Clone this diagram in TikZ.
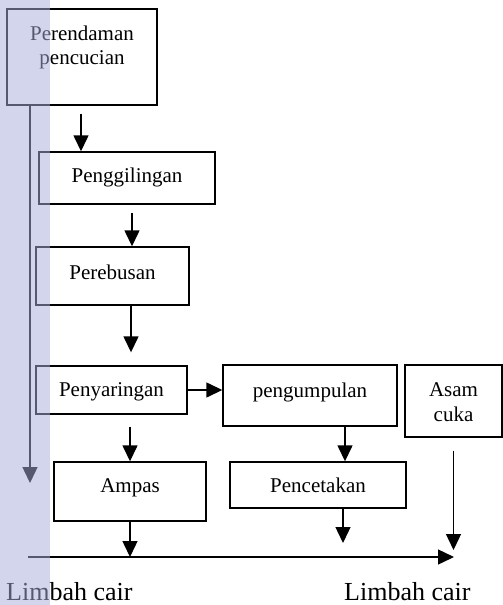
\documentclass[tikz,border=0pt]{standalone}
\usepackage{fontspec}
\setmainfont{Liberation Serif}
\usetikzlibrary{arrows.meta,calc}
\definecolor{bandcol}{RGB}{167,173,216}
\newcommand{\liftt}[2]{\raisebox{#1}[\height][\depth]{#2}}
\begin{document}
\begin{tikzpicture}[x=1pt,y=-1pt,
  box/.style={draw, line width=1.4pt, inner sep=0pt, font=\fontsize{21}{24}\selectfont, align=center},
  arr/.style={line width=1.4pt, -{Triangle[width=15pt,length=16pt]}},
  lbl/.style={font=\fontsize{26}{30}\selectfont, inner sep=0pt}]
\useasboundingbox (0,0) rectangle (503,605);
\fill[white] (0,0) rectangle (503,605);

\node[box, minimum width=150pt, minimum height=96pt] (pr) at (82,57)
  {\liftt{9pt}{\begin{tabular}{@{}c@{}}Perendaman\\pencucian\end{tabular}}};
\node[box, minimum width=176pt, minimum height=52pt] (pg) at (127,178) {\liftt{1pt}{Penggilingan}};
\node[box, minimum width=153pt, minimum height=58pt] (pb) at (112.5,276) {\liftt{4pt}{Perebusan}};
\node[box, minimum width=151pt, minimum height=48pt] (ps) at (111.5,390) {\liftt{-2pt}{Penyaringan}};
\node[box, minimum width=174pt, minimum height=61pt] (pu) at (310,395.5) {\liftt{3pt}{pengumpulan}};
\node[box, minimum width=97pt, minimum height=72pt] (ac) at (453.5,401)
  {\liftt{-3pt}{\begin{tabular}{@{}c@{}}Asam\\[1pt]cuka\end{tabular}}};
\node[box, minimum width=152pt, minimum height=59pt] (am) at (130,491.5) {\liftt{4pt}{Ampas}};
\node[box, minimum width=176pt, minimum height=46pt] (pc) at (318,485) {Pencetakan};

\coordinate (lc) at (30,483);
\coordinate (bl) at (28,557);
\coordinate (br) at (454,557);

\draw[arr] (pr.south -| lc) -- (lc);
\draw[arr, shorten <=8pt] ([xshift=-1pt]pr.south) -- ([xshift=-1pt]pr.south |- pg.north);
\draw[arr, shorten <=8pt] ([xshift=5pt]pg.south) -- ([xshift=5pt]pg.south |- pb.north);
\draw[arr, shorten >=13pt] ([xshift=18.5pt]pb.south) -- ([xshift=18.5pt]pb.south |- ps.north);
\draw[arr] (ps.east) -- (ps.east -| pu.west);
\draw[arr, shorten <=12pt] (am.north |- ps.south) -- (am.north);
\draw[arr] ([xshift=35pt]pu.south) -- ([xshift=35pt]pu.south |- pc.north);
\draw[arr] (am.south) -- (am.south |- bl);
\draw[arr, shorten >=14pt] ([xshift=25pt]pc.south) -- ([xshift=25pt]pc.south |- bl);
\draw[arr, shorten <=13pt, shorten >=7pt] (ac.south) -- (ac.south |- bl);
\draw[arr] (bl) -- (br);

\node[lbl, anchor=base west] (l1) at (6,600) {Limbah cair};
\node[lbl, anchor=base west] (l2) at (344,600) {Limbah cair};

\fill[bandcol, opacity=0.51] (0,0) rectangle (50,605);
\end{tikzpicture}
\end{document}
